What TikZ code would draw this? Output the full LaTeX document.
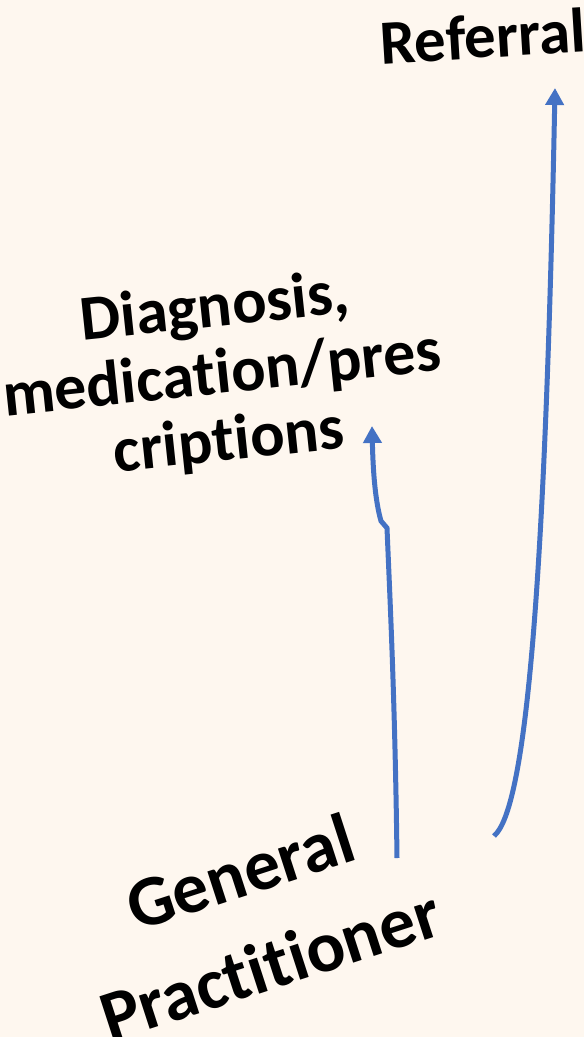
\documentclass[tikz,border=0pt]{standalone}
\usepackage{fontspec}
\setmainfont[RawFeature={-liga}]{Carlito}
\definecolor{cream}{HTML}{FEF7EF}
\definecolor{arrblue}{HTML}{4472C4}
\usetikzlibrary{arrows.meta}
\begin{document}
\begin{tikzpicture}[x=1pt, y=-1pt,
    lbl/.style={font=\bfseries, align=center, inner sep=0pt},
    flow/.style={arrblue, line width=5pt,
      -{Triangle[width=18pt, length=17pt]}}]
  \fill[cream] (0,0) rectangle (584,1037);
  \useasboundingbox (0,0) rectangle (584,1037);
  \node[lbl, rotate=3.5, font=\bfseries\fontsize{63}{66}\selectfont]
    (ref) at (483,36) {Referral};
  \node[lbl, rotate=6, font=\bfseries\fontsize{64}{67}\selectfont]
    (diag) at (222,376) {Diagnosis,\\medication/pres\\criptions};
  \node[lbl, rotate=18, font=\bfseries\fontsize{72}{97}\selectfont]
    (gp) at (255,918) {General\\Practitioner};
  % arrow ends
  \coordinate (gp-a) at (397,858);
  \coordinate (gp-b) at (494,836);
  \coordinate (diag-in) at (372,426);
  \coordinate (ref-in) at (555,88);
  \draw[flow] (gp-a) .. controls (395,700) and (390,600) .. (387,528)
    -- (381,521) .. controls (375,500) and (373,470) .. (diag-in);
  \draw[flow] (gp-b) .. controls (525,810) and (545,600) .. (ref-in);
\end{tikzpicture}
\end{document}
